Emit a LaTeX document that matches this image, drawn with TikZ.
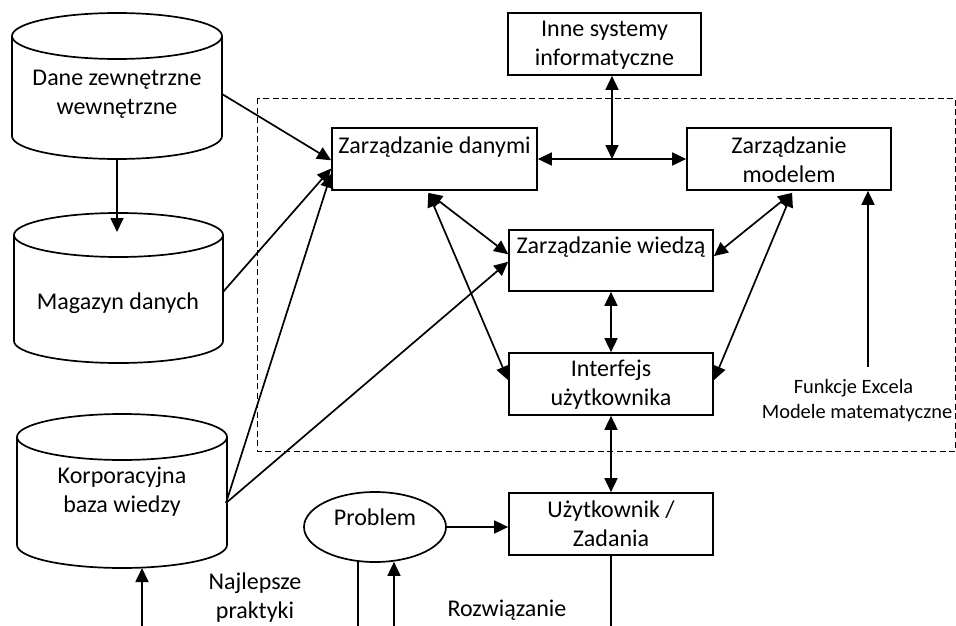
\documentclass[tikz,border=0pt]{standalone}
\usepackage{fontspec}
\setmainfont{Carlito}
\usetikzlibrary{arrows.meta,calc,shapes.geometric}
\tikzset{
  x=1pt,y=-1pt,
  ln/.style={line width=1.7pt},
  arr/.style={ln,-{Triangle[length=14pt,width=13pt]}},
  darr/.style={ln,{Triangle[length=14pt,width=13pt]}-{Triangle[length=14pt,width=13pt]}},
  boxnode/.style={draw,line width=1.7pt,minimum width=205pt,minimum height=62pt,inner sep=0pt},
  txt/.style={font=\fontsize{24}{29}\selectfont,align=center,inner sep=0pt},
  smalltxt/.style={font=\fontsize{20.4}{25}\selectfont,align=center,inner sep=0pt},
  cyl/.style={line width=1.7pt,fill=white}
}
\newcommand{\mycyl}[5]{% cx, top cy, bottom cy, rx, ry
  \draw[cyl] (#1-#4,#2) -- (#1-#4,#3) arc[start angle=180,end angle=360,x radius=#4pt,y radius=#5pt] -- (#1+#4,#2);
  \draw[cyl] (#1,#2) ellipse[x radius=#4pt,y radius=#5pt];
}
\begin{document}
\begin{tikzpicture}
\useasboundingbox (0,0) rectangle (956,626);
% dashed system boundary
\draw[line width=1pt,dash pattern=on 6pt off 3.5pt] (257,98) rectangle (955,451);

% cylinders
\mycyl{117}{36}{136}{105}{23}
\mycyl{118.5}{235}{341}{104.5}{22}
\mycyl{122}{437}{545}{105}{23}
\node[txt] (c1t) at (117,94) {Dane zewnętrzne\\wewnętrzne};
\node[txt] (c2t) at (118,303) {Magazyn danych};
\node[txt] (c3t) at (122,492) {Korporacyjna\\baza wiedzy};
\coordinate (c1b) at (117,159);
\coordinate (c1r) at (222,94);
\coordinate (c2top) at (117,232);
\coordinate (c2r) at (223,292);
\coordinate (c3r) at (226,503);
\coordinate (c3b) at (142,568);

% boxes
\node[boxnode] (zd) at (434.5,159) {};
\node[txt] at (434.5,147) {Zarządzanie danymi};
\node[boxnode,minimum width=193pt] (inne) at (604.5,44) {};
\node[txt] at (604.5,45) {Inne systemy\\informatyczne};
\node[boxnode,minimum width=204pt] (zm) at (789,159) {};
\node[txt] at (789,160) {Zarządzanie\\modelem};
\node[boxnode,minimum width=204pt,minimum height=61pt] (zw) at (611,260.5) {};
\node[txt] at (611,247) {Zarządzanie wiedzą};
\node[boxnode,minimum width=204pt] (ui) at (611,384) {};
\node[txt] at (611,385) {Interfejs\\użytkownika};
\node[boxnode,minimum width=204pt] (us) at (611,524) {};
\node[txt] at (611,524) {Użytkownik /\\Zadania};
\node[draw,ellipse,line width=1.7pt,minimum width=142pt,minimum height=70pt,inner sep=0pt] (pr) at (375,527) {};
\node[txt] at (375,517) {Problem};

% labels
\node[txt] (np) at (255,598) {Najlepsze\\praktyki};
\node[txt] (rz) at (507,610) {Rozwiązanie};
\node[smalltxt] (fe) at (853.5,388) {Funkcje Excela};
\node[smalltxt] (mm) at (857,413) {Modele matematyczne};

% connectors into data management
\draw[arr] (c1b) -- (c2top);
\draw[arr] (c1r) -- ($(zd.north west)!0.52!(zd.south west)$);
\draw[arr] (c2r) -- ($(zd.north west)!0.65!(zd.south west)$);
\draw[arr] (c3r) -- ($(zd.north west)!0.73!(zd.south west)$);
\draw[arr] (c3r) -- ($(zw.north west)!0.52!(zw.south west)$);

% internal connections
\coordinate (zdb) at ($(zd.south west)!0.47!(zd.south east)+(0,2)$);
\draw[darr] (zdb) -- ($(zw.north west)!0.4!(zw.south west)$);
\draw[darr] (zdb) -- ($(ui.north west)!0.44!(ui.south west)$);
\draw[darr] (zd.east) -- (zm.west);
\coordinate (j) at (612,159);
\draw[darr] (inne.south -| j) -- (j);
\coordinate (zmb) at ($(zm.south west)!0.515!(zm.south east)+(0,2)$);
\draw[darr] (zmb) -- ($(zw.north east)!0.43!(zw.south east)$);
\draw[darr] (zmb) -- ($(ui.north east)!0.44!(ui.south east)$);
\draw[darr] (zw.south) -- (ui.north);
\draw[darr] (ui.south) -- (us.north);
\coordinate (fx) at (868,367);
\draw[arr] (fx) -- (fx |- zm.south);

% bottom part
\draw[arr] (pr.east) -- (pr.east -| us.west);
\coordinate (b1) at (358,626);
\coordinate (b2) at (394,626);
\coordinate (b3) at (611,626);
\coordinate (b0) at (142,626);
\draw[ln] ($(b1 |- pr.south)+(0,-1)$) -- (b1);
\draw[arr] (b2) -- ($(b2 |- pr.south)+(0,-1)$);
\draw[ln] (us.south) -- (b3);
\draw[arr] (b0) -- (c3b);
\end{tikzpicture}
\end{document}
